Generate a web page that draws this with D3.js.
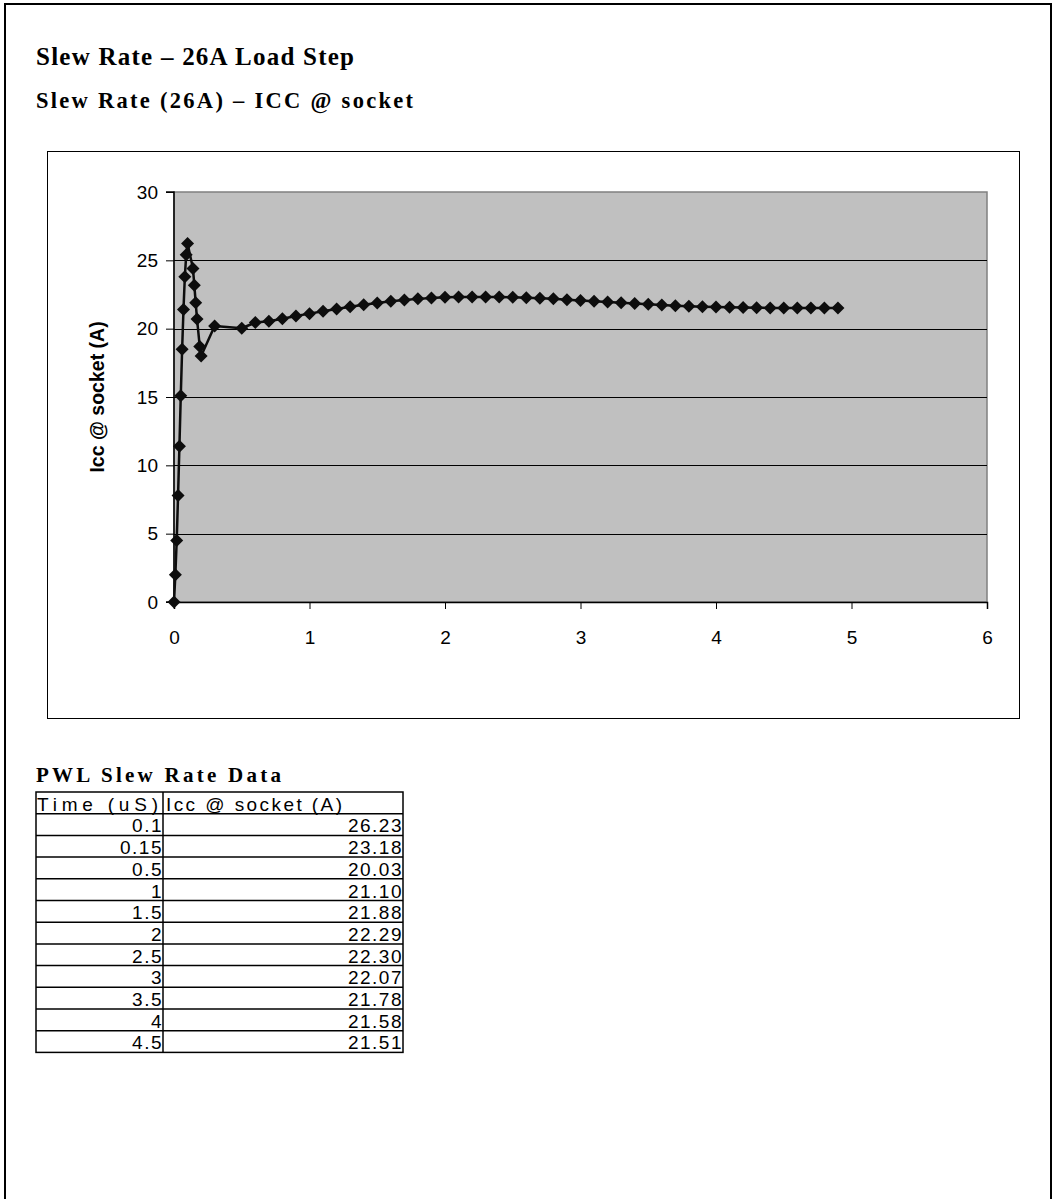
<!DOCTYPE html>
<html>
<head>
<meta charset="utf-8">
<script src="https://cdn.jsdelivr.net/npm/d3@7/dist/d3.min.js"></script>
<style>
  html, body { margin: 0; padding: 0; background: #fff; }
  svg { display: block; }
</style>
</head>
<body>
<svg id="chart" width="1053" height="1199"></svg>
<script>
// ---- Data ----
const timeUs = [0, 0.01, 0.02, 0.03, 0.04, 0.05, 0.06, 0.07, 0.08, 0.09, 0.1,
  0.14, 0.15, 0.16, 0.17, 0.19, 0.2, 0.3,
  0.5, 0.6, 0.7, 0.8, 0.9, 1.0, 1.1, 1.2, 1.3, 1.4, 1.5, 1.6, 1.7, 1.8, 1.9,
  2.0, 2.1, 2.2, 2.3, 2.4, 2.5, 2.6, 2.7, 2.8, 2.9, 3.0, 3.1, 3.2, 3.3, 3.4,
  3.5, 3.6, 3.7, 3.8, 3.9, 4.0, 4.1, 4.2, 4.3, 4.4, 4.5, 4.6, 4.7, 4.8, 4.9];
const iccSocket = [0, 2.0, 4.5, 7.8, 11.4, 15.1, 18.5, 21.4, 23.8, 25.4, 26.23,
  24.4, 23.18, 21.9, 20.7, 18.7, 18.0, 20.2,
  20.03, 20.45, 20.55, 20.72, 20.92, 21.10, 21.27, 21.44, 21.60, 21.75, 21.88, 22.0, 22.1, 22.18, 22.24,
  22.29, 22.31, 22.32, 22.32, 22.32, 22.30, 22.27, 22.23, 22.18, 22.12, 22.07, 22.01, 21.95, 21.89, 21.84,
  21.78, 21.73, 21.68, 21.64, 21.61, 21.58, 21.56, 21.54, 21.53, 21.52, 21.51, 21.51, 21.51, 21.51, 21.51];

const xTicks = [0, 1, 2, 3, 4, 5, 6];
const yTicks = [0, 5, 10, 15, 20, 25, 30];

const tableTimes = ["0.1", "0.15", "0.5", "1", "1.5", "2", "2.5", "3", "3.5", "4", "4.5"];
const tableIcc = ["26.23", "23.18", "20.03", "21.10", "21.88", "22.29", "22.30", "22.07", "21.78", "21.58", "21.51"];
const tableHeaders = ["Time (uS)", "Icc @ socket (A)"];

const titleText = "Slew Rate \u2013 26A Load Step";
const subtitleText = "Slew Rate (26A) \u2013 ICC @ socket";
const tableTitle = "PWL Slew Rate Data";
const yAxisLabel = "Icc @ socket (A)";

// ---- Drawing ----
const svg = d3.select("#chart");
const serif = "'Liberation Serif', 'Times New Roman', serif";
const sans = "'Liberation Sans', Arial, sans-serif";

// page border (left, top, right)
svg.append("path")
  .attr("d", "M5,1199 L5,4 L1051,4 L1051,1199")
  .attr("fill", "none").attr("stroke", "#000").attr("stroke-width", 2);

// titles
svg.append("text").attr("x", 36).attr("y", 65)
  .attr("font-family", serif).attr("font-weight", "bold").attr("font-size", 25)
  .attr("textLength", 318).attr("lengthAdjust", "spacing")
  .text(titleText);
svg.append("text").attr("x", 36).attr("y", 108)
  .attr("font-family", serif).attr("font-weight", "bold").attr("font-size", 22.5)
  .attr("textLength", 377).attr("lengthAdjust", "spacing")
  .text(subtitleText);

// chart box
svg.append("rect").attr("x", 47.5).attr("y", 151.5).attr("width", 972).attr("height", 567)
  .attr("fill", "#fff").attr("stroke", "#000").attr("stroke-width", 1);

const plot = { left: 174, right: 987, top: 192, bottom: 602 };
const x = d3.scaleLinear().domain([0, 6]).range([plot.left, plot.right]);
const y = d3.scaleLinear().domain([0, 30]).range([plot.bottom, plot.top]);

// plot area
svg.append("rect").attr("x", plot.left).attr("y", plot.top)
  .attr("width", plot.right - plot.left).attr("height", plot.bottom - plot.top)
  .attr("fill", "#c0c0c0").attr("stroke", "#808080").attr("stroke-width", 1.5);

// gridlines
svg.append("g").selectAll("line").data(yTicks.filter(d => d > 0 && d < 30)).join("line")
  .attr("x1", plot.left).attr("x2", plot.right)
  .attr("y1", d => Math.round(y(d)) + 0.5).attr("y2", d => Math.round(y(d)) + 0.5)
  .attr("stroke", "#000").attr("stroke-width", 1);

// axes
const yAxis = d3.axisLeft(y).tickValues(yTicks).tickSize(8).tickPadding(8).tickFormat(d3.format("d"));
const gy = svg.append("g").attr("transform", `translate(${plot.left},0)`).call(yAxis);
gy.select(".domain").attr("stroke", "#000").attr("stroke-width", 1.5).attr("d", `M-8,${plot.top}H0V${plot.bottom}H-8`);
gy.selectAll("text").attr("font-family", sans).attr("font-size", 19).attr("fill", "#000");

const xAxis = d3.axisBottom(x).tickValues(xTicks).tickSize(7).tickPadding(22).tickFormat(d3.format("d"));
const gx = svg.append("g").attr("transform", `translate(0,${plot.bottom})`).call(xAxis);
gx.select(".domain").attr("stroke", "#000").attr("stroke-width", 1.5);
gx.selectAll("text").attr("font-family", sans).attr("font-size", 19).attr("fill", "#000");

// y label
svg.append("text")
  .attr("transform", `translate(104,397) rotate(-90)`)
  .attr("text-anchor", "middle")
  .attr("font-family", sans).attr("font-weight", "bold").attr("font-size", 19.5)
  .text(yAxisLabel);

// series
const pts = timeUs.map((t, i) => [t, iccSocket[i]]);
svg.append("path").datum(pts)
  .attr("d", d3.line().x(d => x(d[0])).y(d => y(d[1])))
  .attr("fill", "none").attr("stroke", "#0d0d0d").attr("stroke-width", 2.5).attr("stroke-linejoin", "round");
const r = 6.5;
svg.append("g").selectAll("path").data(pts).join("path")
  .attr("transform", d => `translate(${x(d[0])},${y(d[1])})`)
  .attr("d", `M0,${-r}L${r},0L0,${r}L${-r},0Z`)
  .attr("fill", "#0d0d0d");

// table
svg.append("text").attr("x", 36).attr("y", 782)
  .attr("font-family", serif).attr("font-weight", "bold").attr("font-size", 21)
  .attr("textLength", 245).attr("lengthAdjust", "spacing")
  .text(tableTitle);

const tbl = { left: 36, mid: 163, right: 403, top: 792, rowH: 21.7 };
const rows = [tableHeaders].concat(tableTimes.map((t, i) => [t, tableIcc[i]]));
const tg = svg.append("g");
tg.append("rect").attr("x", tbl.left).attr("y", tbl.top)
  .attr("width", tbl.right - tbl.left).attr("height", rows.length * tbl.rowH)
  .attr("fill", "none").attr("stroke", "#000").attr("stroke-width", 1.5);
tg.append("line").attr("x1", tbl.mid).attr("x2", tbl.mid)
  .attr("y1", tbl.top).attr("y2", tbl.top + rows.length * tbl.rowH)
  .attr("stroke", "#000").attr("stroke-width", 1.5);
tg.selectAll("line.row").data(d3.range(1, rows.length)).join("line").attr("class", "row")
  .attr("x1", tbl.left).attr("x2", tbl.right)
  .attr("y1", d => tbl.top + d * tbl.rowH).attr("y2", d => tbl.top + d * tbl.rowH)
  .attr("stroke", "#000").attr("stroke-width", 1.5);

// header row
tg.append("text").attr("x", tbl.left + 1).attr("y", tbl.top + tbl.rowH - 3)
  .attr("font-family", sans).attr("font-size", 19)
  .attr("textLength", 121).attr("lengthAdjust", "spacing")
  .text(tableHeaders[0]);
tg.append("text").attr("x", tbl.mid + 3).attr("y", tbl.top + tbl.rowH - 3)
  .attr("font-family", sans).attr("font-size", 19)
  .attr("textLength", 176).attr("lengthAdjust", "spacing")
  .text(tableHeaders[1]);

// data rows
tableTimes.forEach((t, i) => {
  const yy = tbl.top + (i + 2) * tbl.rowH - 3;
  tg.append("text").attr("x", tbl.mid).attr("y", yy)
    .attr("text-anchor", "end")
    .attr("font-family", sans).attr("font-size", 19).attr("letter-spacing", 1.5)
    .text(t);
  tg.append("text").attr("x", tbl.right).attr("y", yy)
    .attr("text-anchor", "end")
    .attr("font-family", sans).attr("font-size", 19).attr("letter-spacing", 1.5)
    .text(tableIcc[i]);
});
</script>
</body>
</html>
